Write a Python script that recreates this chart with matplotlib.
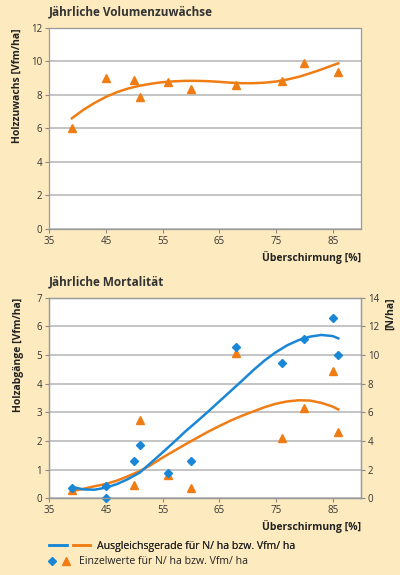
"""Jährliche Volumenzuwächse und Mortalität in Abhängigkeit von der Überschirmung.

Zwei Diagramme untereinander: oben der Holzzuwachs, unten die Holzabgänge
(Vfm/ha links, Stammzahl N/ha rechts). Die Ausgleichskurven wurden an festen
x-Stellen aus der Vorlage abgelesen.
"""

import matplotlib
matplotlib.use("Agg")
import matplotlib.pyplot as plt
from matplotlib.legend_handler import HandlerTuple
from matplotlib.ticker import MultipleLocator

# ---------------------------------------------------------------------------
# Daten
# ---------------------------------------------------------------------------

# Oben: Einzelwerte Holzzuwachs [Vfm/ha]
zuwachs_x = [39, 45, 50, 51, 56, 60, 68, 76, 80, 86]
zuwachs_vfm = [6.0, 9.03, 8.9, 7.9, 8.75, 8.34, 8.6, 8.85, 9.93, 9.38]

kurve_x = [39, 41, 43, 45, 47, 49, 51, 53, 55, 57, 59, 61, 63,
           65, 67, 69, 71, 73, 75, 77, 79, 81, 83, 85, 86]
zuwachs_kurve = [6.6, 7.1, 7.52, 7.88, 8.17, 8.39, 8.55, 8.67, 8.76, 8.81,
                 8.84, 8.84, 8.82, 8.78, 8.73, 8.70, 8.70, 8.73, 8.80, 8.92,
                 9.08, 9.29, 9.52, 9.77, 9.89]

# Unten: Einzelwerte Holzabgänge [Vfm/ha] und Stammzahl [N/ha]
abgang_x_vfm = [39, 45, 50, 51, 56, 60, 68, 76, 80, 85, 86]
abgang_vfm = [0.29, 0.0, 0.47, 2.73, 0.81, 0.35, 5.06, 2.09, 3.14, 4.45, 2.33]
abgang_x_n = [39, 45, 45, 50, 51, 56, 60, 68, 76, 80, 85, 86]
abgang_n = [0.74, 0.88, 0.0, 2.58, 3.72, 1.77, 2.58, 10.53, 9.47, 11.14, 12.6, 10.0]

abgang_kurve_vfm = [0.25, 0.33, 0.42, 0.50, 0.62, 0.78, 0.95, 1.17, 1.42, 1.65,
                    1.88, 2.10, 2.32, 2.52, 2.71, 2.88, 3.03, 3.18, 3.30, 3.38,
                    3.42, 3.41, 3.33, 3.20, 3.10]
abgang_kurve_n = [0.80, 0.62, 0.60, 0.74, 1.00, 1.36, 1.80, 2.50, 3.20, 3.92,
                  4.66, 5.34, 6.04, 6.76, 7.48, 8.20, 8.94, 9.62, 10.20, 10.68,
                  11.04, 11.28, 11.40, 11.32, 11.16]

x_ticks = [35, 45, 55, 65, 75, 85]

# ---------------------------------------------------------------------------
# Stil
# ---------------------------------------------------------------------------

ORANGE = "#f07c14"
BLUE = "#1a86d6"
BG = "#fdebbf"
GRID = "#b4b4b4"
TEXT = "#333333"

plt.rcParams["font.family"] = ["Open Sans", "DejaVu Sans"]
plt.rcParams["font.size"] = 7


def style_axis(ax, ymax, ystep):
    ax.set_facecolor("white")
    ax.set_xlim(35, 90)
    ax.set_ylim(0, ymax)
    ax.set_xticks(x_ticks)
    ax.xaxis.set_minor_locator(MultipleLocator(10, offset=5))
    ax.yaxis.set_major_locator(MultipleLocator(ystep))
    ax.grid(axis="y", color=GRID, linewidth=1.1)
    ax.set_axisbelow(True)
    for side in ax.spines.values():
        side.set_color("#9a9a9a")
        side.set_linewidth(0.9)
    ax.tick_params(which="both", direction="out", length=3, width=0.8,
                   color="#8a8a8a", labelcolor=TEXT, labelsize=7, pad=2)
    ax.set_xlabel("Überschirmung [%]", loc="right", fontweight="bold",
                  color="#222222", fontsize=7.5, labelpad=3)


fig = plt.figure(figsize=(4.0, 5.75), dpi=100, facecolor=BG)

# ---------------------------------------------------------------------------
# Oben: Volumenzuwächse
# ---------------------------------------------------------------------------

ax1 = fig.add_axes([0.123, 0.6023, 0.7795, 0.349])
style_axis(ax1, 12, 2)
ax1.plot(kurve_x, zuwachs_kurve, color=ORANGE, linewidth=1.8)
ax1.plot(zuwachs_x, zuwachs_vfm, linestyle="none", marker="^",
         markersize=6, color=ORANGE, clip_on=False)
ax1.set_ylabel("Holzzuwachs [Vfm/ha]", loc="top", fontweight="bold",
               color="#222222", fontsize=7.5, labelpad=6)
fig.text(0.123, 0.979, "Jährliche Volumenzuwächse", fontsize=8.5,
         fontweight="bold", color="#333333", va="center", ha="left")

# ---------------------------------------------------------------------------
# Unten: Mortalität
# ---------------------------------------------------------------------------

ax2 = fig.add_axes([0.123, 0.1334, 0.7795, 0.3489])
style_axis(ax2, 7, 1)
ax2.set_ylabel("Holzabgänge [Vfm/ha]", loc="top", fontweight="bold",
               color="#222222", fontsize=7.5, labelpad=9)

ax3 = ax2.twinx()
ax3.set_ylim(0, 14)
ax3.yaxis.set_major_locator(MultipleLocator(2))
ax3.tick_params(direction="out", length=3, width=0.8, color="#8a8a8a",
                labelcolor=TEXT, labelsize=7, pad=2)
for side in ax3.spines.values():
    side.set_color("#9a9a9a")
    side.set_linewidth(0.9)
ax3.set_ylabel("[N/ha]", loc="top", fontweight="bold", color="#222222",
               fontsize=7.5, labelpad=4)

line_vfm, = ax2.plot(kurve_x, abgang_kurve_vfm, color=ORANGE, linewidth=1.8)
pts_vfm, = ax2.plot(abgang_x_vfm, abgang_vfm, linestyle="none", marker="^",
                    markersize=6, color=ORANGE)
line_n, = ax3.plot(kurve_x, abgang_kurve_n, color=BLUE, linewidth=1.8)
pts_n, = ax3.plot(abgang_x_n, abgang_n, linestyle="none", marker="D",
                  markersize=4.2, color=BLUE, clip_on=False)

fig.text(0.123, 0.5096, "Jährliche Mortalität", fontsize=8.5,
         fontweight="bold", color="#333333", va="center", ha="left")

# ---------------------------------------------------------------------------
# Legende (zwei einzelne Einträge, damit die Einrückung stimmt)
# ---------------------------------------------------------------------------

leg_kw = dict(frameon=False, borderpad=0, borderaxespad=0, fontsize=7.6,
              labelcolor="#222222", loc="center left")
leg1 = fig.legend([(line_n, line_vfm)], ["Ausgleichsgerade für N/ ha bzw. Vfm/ ha"],
                  handler_map={tuple: HandlerTuple(ndivide=None, pad=0.57)},
                  handlelength=3.9, handletextpad=0.63,
                  bbox_to_anchor=(49 / 400, 1 - 546 / 575), **leg_kw)
fig.add_artist(leg1)
fig.legend([(pts_n, pts_vfm)], ["Einzelwerte für N/ ha bzw. Vfm/ ha"],
           handler_map={tuple: HandlerTuple(ndivide=None, pad=0)},
           handlelength=2.6, handletextpad=0.58,
           bbox_to_anchor=(45 / 400, 1 - 562 / 575), **leg_kw)

fig.savefig("out.png", dpi=100, facecolor=BG)
